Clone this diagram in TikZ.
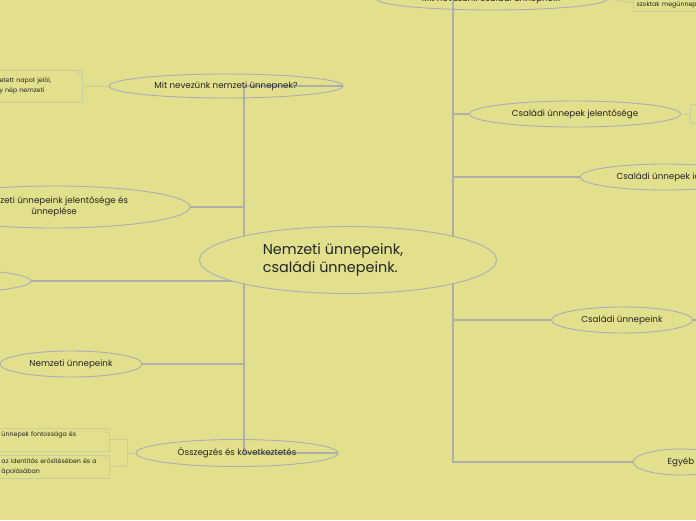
\documentclass[tikz,border=0pt]{standalone}
\usepackage{fontspec}
\setmainfont{Poppins}
\usetikzlibrary{shapes.geometric}
\usetikzlibrary{positioning}
\definecolor{mapbg}{RGB}{226,224,140}
\definecolor{ovalline}{RGB}{172,172,184}
\definecolor{linkline}{RGB}{174,174,170}
\definecolor{noteline}{RGB}{204,204,158}
\definecolor{mapink}{RGB}{36,36,36}
\pgfdeclarelayer{canvas}
\pgfdeclarelayer{links}
\pgfsetlayers{canvas,links,main}
\tikzset{
  topic/.style={ellipse,draw=ovalline,line width=0.9pt,inner sep=0pt,text=mapink,align=center,font=\fontsize{8.7}{11}\selectfont},
  roottext/.style={xshift=-15pt,text=mapink,align=left,font=\fontsize{14.4}{18}\selectfont},
  link/.style={draw=linkline,line width=1.5pt},
  notelink/.style={draw=noteline,line width=1pt},
  notebox/.style={rectangle,draw=noteline,line width=1pt,fill=mapbg,inner sep=3pt,text=mapink,align=left,font=\fontsize{6.3}{10}\selectfont,
    path picture={\draw[noteline,line width=0.8pt] ([xshift=-4pt]path picture bounding box.north east) -- ([xshift=-4pt,yshift=-4pt]path picture bounding box.north east) -- ([yshift=-4pt]path picture bounding box.north east);}}
}
\begin{document}
\begin{tikzpicture}[x=1pt,y=-1pt]
\useasboundingbox (0,0) rectangle (696,520);
\begin{pgfonlayer}{canvas}
\fill[mapbg] (0,0) rectangle (696,520);
\end{pgfonlayer}
\clip (0,0) rectangle (696,520);

\node[topic,fill=mapbg,minimum width=297pt,minimum height=67pt,label={[roottext]center:{Nemzeti ünnepeink,\\családi ünnepeink.}}] (root) at (348,260) {};

\node[topic,minimum width=234pt,minimum height=24pt] (natq) at (226,86) {Mit nevezünk nemzeti ünnepnek?};
\node[topic,minimum width=272pt,minimum height=42pt] (natmean) at (54,207) {Nemzeti ünnepeink jelentősége és\\ünneplése};
\node[topic,minimum width=222pt,minimum height=26pt] (natday) at (-80,281) {};
\node[topic,minimum width=142pt,minimum height=26pt] (natlist) at (71,364) {Nemzeti ünnepeink};
\node[topic,minimum width=202pt,minimum height=27pt] (summary) at (237,453) {Összegzés és következtetés};

\node[topic,minimum width=230pt,minimum height=22pt] (famq) at (492,-1) {Mit nevezünk családi ünnepnek?};
\node[topic,minimum width=170pt,minimum height=26pt] (famtime) at (665,177) {Családi ünnepek ideje};
\node[topic,minimum width=211pt,minimum height=26pt] (fammean) at (575,114) {Családi ünnepek jelentősége};
\node[topic,minimum width=141pt,minimum height=26pt] (famlist) at (622,320) {Családi ünnepeink};
\node[topic,minimum width=96pt,minimum height=26pt] (other) at (681,462) {Egyéb};

\node[notebox,anchor=east,minimum height=32pt,text width=80pt] (natnote) at (83,86) {etett napot jelöl,\\y nép nemzeti};
\node[notebox,anchor=east,minimum height=23pt,text width=105pt] (sumnote1) at (110,439.5) {ünnepek fontossága és\\\mbox{}};
\node[notebox,anchor=east,minimum height=23pt,text width=105pt] (sumnote2) at (110,466.5) {az identitás erősítésében és a\\ápolásában};
\node[notebox,anchor=west,minimum height=19pt,text width=60pt] (famnote) at (690,114) {};
\node[notebox,anchor=south west,text width=80pt] (famqnote) at (633,12) {\mbox{}\\szoktak megünnepelni.};

\coordinate (lhub) at (244,260);
\coordinate (rhub) at (453,260);
\coordinate (sumfork) at (127,453);
\coordinate (famout) at (712,320);

\begin{pgfonlayer}{links}
\draw[link] (root.center) -- (lhub) |- (natq.east);
\draw[link] (lhub) |- (natmean.east);
\draw[link] (lhub) |- (natday.east);
\draw[link] (lhub) |- (natlist.east);
\draw[link] (lhub) |- (summary.east);
\draw[link] (root.center) -- (rhub) |- (famq.west);
\draw[link] (rhub) |- (fammean.west);
\draw[link] (rhub) |- (famtime.west);
\draw[link] (rhub) |- (famlist.west);
\draw[link] (rhub) |- (other.west);
\draw[link] (famlist.east) -- (famout);
\draw[notelink] (natq.west) -- (natnote.east);
\draw[notelink] (summary.west) -- (sumfork) |- (sumnote1.east);
\draw[notelink] (sumfork) |- (sumnote2.east);
\draw[notelink] (fammean.east) -- (famnote.west);
\draw[notelink] (famq.east) -- (famqnote.west);
\end{pgfonlayer}

\end{tikzpicture}
\end{document}
